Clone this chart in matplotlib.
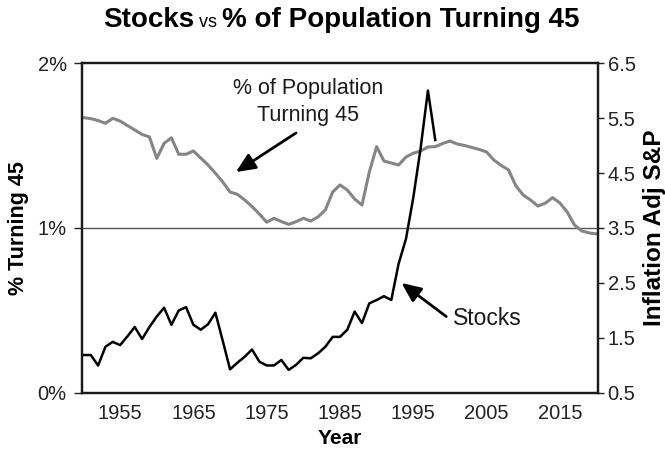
import matplotlib
matplotlib.use('Agg')
import matplotlib.pyplot as plt
import numpy as np

plt.rcParams['font.family'] = ['Liberation Sans', 'DejaVu Sans']

# ~~~~~~~~~~~~~~~~
# DATA
# ~~~~~~~~~~~~~~~~
pop_years = list(range(1950, 2021))
pop_pct = [1.669, 1.663, 1.651, 1.635, 1.665, 1.648, 1.621, 1.594, 1.567, 1.552,
           1.422, 1.513, 1.547, 1.447, 1.447, 1.467, 1.424, 1.382, 1.332, 1.279,
           1.218, 1.204, 1.170, 1.130, 1.085, 1.035, 1.059, 1.039, 1.022, 1.038,
           1.059, 1.042, 1.067, 1.109, 1.218, 1.261, 1.230, 1.176, 1.139, 1.339,
           1.493, 1.406, 1.394, 1.382, 1.430, 1.453, 1.467, 1.491, 1.493, 1.512,
           1.527, 1.509, 1.500, 1.488, 1.476, 1.461, 1.412, 1.379, 1.352, 1.255,
           1.200, 1.170, 1.133, 1.150, 1.184, 1.152, 1.097, 1.018, 0.982, 0.970,
           0.964]

stock_years = list(range(1950, 1999))
stock_val = [1.19, 1.19, 1.00, 1.34, 1.43, 1.37, 1.53, 1.70, 1.48, 1.70,
             1.89, 2.05, 1.74, 2.00, 2.06, 1.74, 1.65, 1.75, 1.96, 1.45,
             0.93, 1.05, 1.16, 1.29, 1.07, 1.00, 1.00, 1.10, 0.92, 1.01,
             1.14, 1.13, 1.22, 1.34, 1.52, 1.52, 1.65, 1.98, 1.77, 2.13,
             2.19, 2.26, 2.19, 2.85, 3.30, 4.05, 4.95, 6.00, 5.10]

x_ticks = [1955, 1965, 1975, 1985, 1995, 2005, 2015]
left_ticks = [0, 1, 2]
left_labels = ['0%', '1%', '2%']
right_ticks = [0.5, 1.5, 2.5, 3.5, 4.5, 5.5, 6.5]

# ~~~~~~~~~~
# PLOTTING
# ~~~~~~~~~~
fig = plt.figure(figsize=(6.65, 4.62), dpi=100)
ax = fig.add_axes([0.1233, 0.1494, 0.7759, 0.7142])
ax2 = ax.twinx()

ax.axhline(1, color='#555555', lw=1, zorder=1)
ax.plot(pop_years, pop_pct, color='#858585', lw=2.2, zorder=2)
ax2.plot(stock_years, stock_val, color='black', lw=1.8)

ax.set_xlim(1949.8, 2020.2)
ax.set_ylim(0, 2)
ax2.set_ylim(0.5, 6.5)

ax.set_xticks(x_ticks)
ax.set_yticks(left_ticks)
ax.set_yticklabels(left_labels)
ax2.set_yticks(right_ticks)
ax2.set_yticklabels([f'{v:.1f}' for v in right_ticks])

ax.tick_params(axis='x', length=0, pad=8, labelsize=14.5, colors='#222222')
ax.tick_params(axis='y', length=6, width=1, pad=5, labelsize=14.5, colors='#222222')
ax2.tick_params(axis='y', length=4, width=1, pad=3, labelsize=14.5, colors='#222222')

for a in (ax, ax2):
    for sp in a.spines.values():
        sp.set_linewidth(1.6)
        sp.set_color('#1a1a1a')

ax.set_xlabel('Year', fontsize=15, fontweight='bold', labelpad=4)
ax.set_ylabel('% Turning 45', fontsize=15.5, fontweight='bold', labelpad=6)
ax2.set_ylabel('Inflation Adj S&P', fontsize=17.5, fontweight='bold', labelpad=5)

# annotations
arrow_kw = dict(arrowstyle='-|>,head_length=0.9,head_width=0.4', color='black',
                lw=2, mutation_scale=13, shrinkA=0, shrinkB=0)
ax.text(1980.6, 1.764, '% of Population\nTurning 45', ha='center', va='center',
        fontsize=15.5, linespacing=1.35, color='#1a1a1a')
ax.annotate('', xy=(1970.8, 1.339), xytext=(1979.0, 1.576), arrowprops=arrow_kw)

ax2.text(2005.1, 1.86, 'Stocks', ha='center', va='center', fontsize=16.5, color='#1a1a1a')
ax2.annotate('', xy=(1993.4, 2.50), xytext=(1999.5, 1.89), arrowprops=arrow_kw)

# title with a smaller "vs"
parts = [('Stocks', 20, 'bold'), (' vs ', 13, 'normal'),
         ('% of Population Turning 45', 20, 'bold')]
texts = [fig.text(0, 0.9416, s, fontsize=fs, fontweight=fw, va='baseline', ha='left')
         for s, fs, fw in parts]
fig.canvas.draw()
r = fig.canvas.get_renderer()
widths = [t.get_window_extent(r).width / fig.bbox.width for t in texts]
x0 = 0.513 - sum(widths) / 2
for t, w in zip(texts, widths):
    t.set_x(x0)
    x0 += w

fig.savefig('out.png', dpi=100)
